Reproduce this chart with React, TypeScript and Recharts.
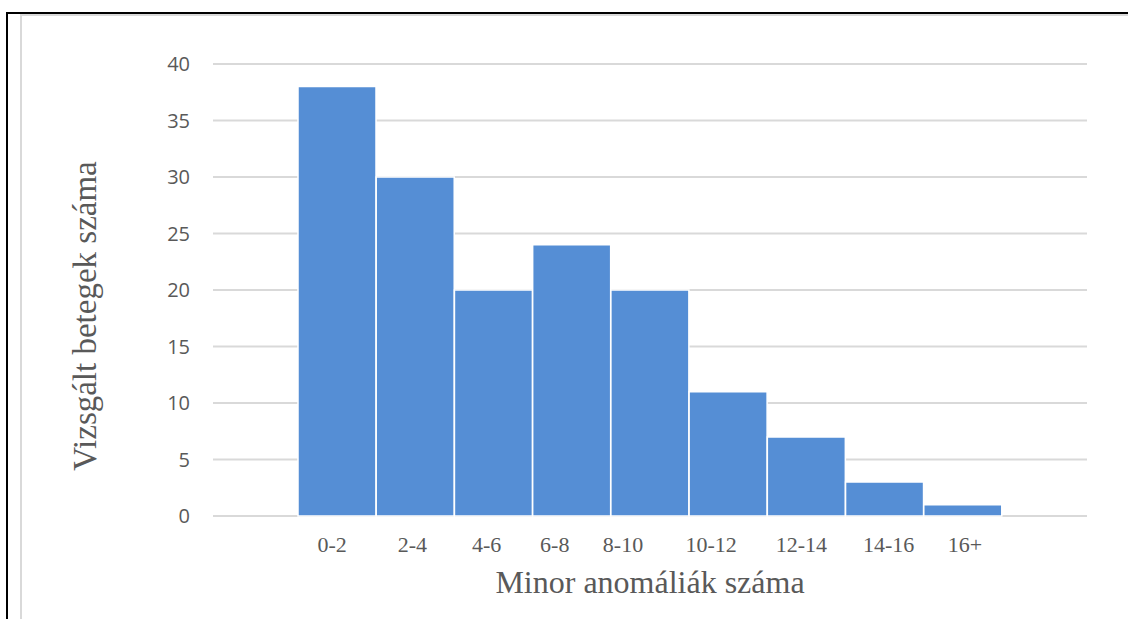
import { BarChart, Bar, XAxis, YAxis, CartesianGrid, Label } from 'recharts'

const CATEGORIES = ['0-2', '2-4', '4-6', '6-8', '8-10', '10-12', '12-14', '14-16', '16+']
const PATIENTS = [38, 30, 20, 24, 20, 11, 7, 3, 1]
const Y_TICKS = [0, 5, 10, 15, 20, 25, 30, 35, 40]

// the source's category labels drift a little from the bar centres
const TICK_NUDGE = [-5, -3, -7, -17, -27, -17, -5, 4, 2]

const data = CATEGORIES.map((c, i) => ({ range: c, count: PATIENTS[i] }))

const TEXT = '#595959'
const SERIF = '"Liberation Serif", "Times New Roman", serif'

function XTick(props: any) {
  const { x, y, payload, index } = props
  const i = typeof index === 'number' ? index : payload.index
  return (
    <text x={x + (TICK_NUDGE[i] ?? 0)} y={y} dy="0.71em" textAnchor="middle"
      fill={TEXT} fontSize={22} fontFamily={SERIF}>
      {payload.value}
    </text>
  )
}

function YTitle(props: any) {
  const vb = props.viewBox
  const cx = vb.x + 36
  const cy = vb.y + vb.height / 2 + 26
  return (
    <text x={cx} y={cy} transform={`rotate(-90, ${cx}, ${cy})`} textAnchor="middle"
      fill={TEXT} fontSize={33} fontFamily={SERIF}>
      Vizsgált betegek száma
    </text>
  )
}

export default function App() {
  return (
    <div style={{ position: 'absolute', left: 0, top: 0, width: 1128, height: 619, background: '#fff', overflow: 'hidden' }}>
      {/* page frame */}
      <div style={{ position: 'absolute', left: 6, top: 12, width: 1122, height: 2, background: '#000' }} />
      <div style={{ position: 'absolute', left: 6, top: 12, width: 2, height: 607, background: '#000' }} />
      {/* chart area border */}
      <div style={{ position: 'absolute', left: 20, top: 14, width: 1108, height: 2, background: '#d9d9d9' }} />
      <div style={{ position: 'absolute', left: 20, top: 14, width: 2, height: 605, background: '#d9d9d9' }} />

      <div style={{ position: 'absolute', left: 0, top: 0 }}>
        <BarChart width={1128} height={619} data={data} barCategoryGap={0}
          margin={{ top: 64, right: 41, bottom: 0, left: 60 }}>
          <CartesianGrid vertical={false} stroke="#d9d9d9" strokeWidth={2} />
          <XAxis dataKey="range" height={103} axisLine={false} tickLine={false}
            tickSize={0} tickMargin={20} padding={{ left: 85, right: 85 }}
            interval={0} tick={<XTick />}>
            <Label value="Minor anomáliák száma" position="insideBottom" offset={26}
              fill={TEXT} fontSize={32} fontFamily={SERIF} />
          </XAxis>
          <YAxis width={153} domain={[0, 40]} ticks={Y_TICKS} axisLine={false} tickLine={false}
            tickSize={0} tickMargin={23}
            tick={{ fill: TEXT, fontSize: 20, fontFamily: '"Open Sans", sans-serif' }}>
            <Label content={<YTitle />} />
          </YAxis>
          <Bar dataKey="count" fill="#558ed5" stroke="#fff" strokeWidth={1.5} isAnimationActive={false} />
        </BarChart>
      </div>
    </div>
  )
}
